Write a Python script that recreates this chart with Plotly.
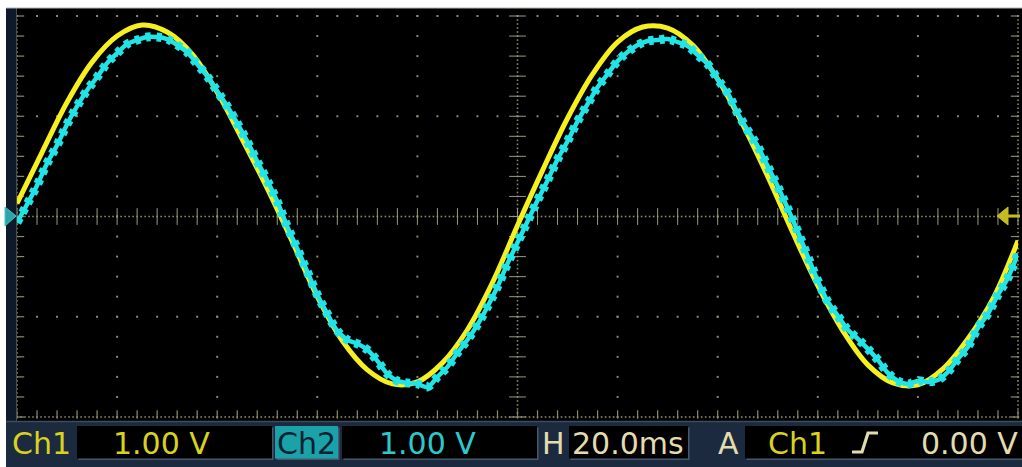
import numpy as np
import plotly.graph_objects as go

# ---------------- data ----------------
# time in ms (20.0 ms/div, 10 div), voltage in V (1.00 V/div)
time_ch1_ms = [0, 5, 10, 15, 20, 25, 30, 35, 40, 45, 50, 55, 60, 65, 70, 75, 80, 85, 90, 95,
               100, 105, 110, 115, 120, 125, 130, 135, 140, 145, 150, 155, 160, 165, 170, 175,
               180, 185, 190, 195, 200]
ch1_volts = [0.13, 0.64, 1.14, 1.54, 1.80, 1.91, 1.84, 1.62, 1.24, 0.77, 0.28, -0.25, -0.80,
             -1.24, -1.53, -1.67, -1.65, -1.46, -1.13, -0.66, -0.09, 0.46, 0.98, 1.42, 1.74,
             1.89, 1.88, 1.71, 1.37, 0.92, 0.40, -0.16, -0.69, -1.14, -1.48, -1.66, -1.68,
             -1.52, -1.22, -0.82, -0.24]

time_ch2_ms = [0, 2, 4, 6, 8, 10, 12, 14, 16, 18, 20, 22, 24, 26, 28, 30, 32, 34, 36, 38,
               40, 42, 44, 46, 48, 50, 52, 54, 56, 58, 60, 62, 64, 66, 68, 70, 72, 74, 76, 78,
               80, 82, 84, 86, 88, 90, 92, 94, 96, 98, 100, 102, 104, 106, 108, 110, 112, 114,
               116, 118, 120, 122, 124, 126, 128, 130, 132, 134, 136, 138, 140, 142, 144, 146,
               148, 150, 152, 154, 156, 158, 160, 162, 164, 166, 168, 170, 172, 174, 176, 178,
               180, 182, 184, 186, 188, 190, 192, 194, 196, 198, 200]
ch2_volts = [-0.06, 0.12, 0.31, 0.53, 0.71, 0.92, 1.10, 1.26, 1.39, 1.53,
             1.63, 1.72, 1.76, 1.79, 1.79, 1.77, 1.71, 1.64, 1.52, 1.40,
             1.25, 1.10, 0.93, 0.75, 0.55, 0.36, 0.15, -0.10, -0.32, -0.55,
             -0.78, -0.97, -1.14, -1.23, -1.27, -1.33, -1.44, -1.57, -1.64, -1.66,
             -1.67, -1.70, -1.60, -1.50, -1.36, -1.23, -1.08, -0.90, -0.70, -0.47,
             -0.26, -0.05, 0.16, 0.36, 0.57, 0.75, 0.95, 1.12, 1.29, 1.42,
             1.55, 1.64, 1.71, 1.75, 1.76, 1.77, 1.74, 1.70, 1.61, 1.52,
             1.37, 1.23, 1.03, 0.86, 0.70, 0.50, 0.30, 0.08, -0.15, -0.40,
             -0.64, -0.85, -0.99, -1.13, -1.22, -1.32, -1.43, -1.56, -1.64, -1.67,
             -1.64, -1.65, -1.63, -1.55, -1.42, -1.30, -1.11, -0.97, -0.78, -0.61,
             -0.37]

# readout bar texts
ch1_label, ch1_scale = "Ch1", "1.00 V"
ch2_label, ch2_scale = "Ch2", "1.00 V"
time_label, time_scale = "H", "20.0ms"
trig_label, trig_source, trig_level = "A", "Ch1", "0.00 V"

# ---------------- layout geometry (pixels) ----------------
FW, FH = 1022, 467
PL, PR, PT, PB = 17, 1018, 16, 417           # graticule area
T_MIN, T_MAX, V_MIN, V_MAX = 0, 200, -2, 2


def px(x):
    return (x - PL) / (PR - PL)


def py(y):
    return (PB - y) / (PB - PT)


GRID = "#8a8a6e"
GRID_HI = "#9a9a80"

fig = go.Figure()

# ---------------- graticule (dotted, oscilloscope style) ----------------
gx, gy = [], []
for t in range(20, 200, 20):
    if t == 100:
        continue
    for v in np.arange(-2, 2.0001, 0.2):
        gx.append(t); gy.append(v)
for v in (-1, 1, 2):
    for t in np.arange(0, 200.001, 4):
        gx.append(t); gy.append(v)
fig.add_trace(go.Scatter(x=gx, y=gy, mode="markers", cliponaxis=False, hoverinfo="skip",
                         marker=dict(symbol="square", size=2, color=GRID, line=dict(width=0)),
                         showlegend=False))

# dense lines: centre axes + frame edges
dx, dy = [], []
for t in np.arange(0, 200.001, 0.8):
    dx += [t, t]; dy += [0, -2]
for v in np.arange(-2, 2.0001, 0.04):
    dx += [0, 100, 200]; dy += [v, v, v]
fig.add_trace(go.Scatter(x=dx, y=dy, mode="markers", cliponaxis=False, hoverinfo="skip",
                         marker=dict(symbol="square", size=1.6, color=GRID, line=dict(width=0)),
                         showlegend=False))

# tick marks on centre axes
tk = np.arange(0, 200.001, 4)
fig.add_trace(go.Scatter(x=tk, y=[0] * len(tk), mode="markers", cliponaxis=False, hoverinfo="skip",
                         marker=dict(symbol="line-ns-open", size=12, color=GRID_HI,
                                     line=dict(width=1, color=GRID_HI)), showlegend=False))
vk = np.arange(-2, 2.0001, 0.2)
fig.add_trace(go.Scatter(x=[100] * len(vk), y=vk, mode="markers", cliponaxis=False, hoverinfo="skip",
                         marker=dict(symbol="line-ew-open", size=12, color=GRID_HI,
                                     line=dict(width=1, color=GRID_HI)), showlegend=False))
# tick marks on frame edges (pointing inward)
fig.add_trace(go.Scatter(x=list(tk), y=[-1.975] * len(tk), mode="markers", cliponaxis=False,
                         hoverinfo="skip",
                         marker=dict(symbol="line-ns-open", size=6, color=GRID,
                                     line=dict(width=1.2, color=GRID)), showlegend=False))
fig.add_trace(go.Scatter(x=[0.6] * len(vk) + [199.4] * len(vk), y=list(vk) + list(vk),
                         mode="markers", cliponaxis=False, hoverinfo="skip",
                         marker=dict(symbol="line-ew-open", size=6, color=GRID,
                                     line=dict(width=1.2, color=GRID)), showlegend=False))

# ---------------- waveforms ----------------
YEL = "#f5f01e"
CYA = "#22e3e6"
fig.add_trace(go.Scatter(x=time_ch1_ms, y=ch1_volts, mode="lines", name="Ch1",
                         line=dict(color=YEL, width=5, shape="spline"), showlegend=False))
fig.add_trace(go.Scatter(x=time_ch2_ms, y=ch2_volts, mode="lines", name="Ch2",
                         line=dict(color=CYA, width=4.5, shape="spline"), showlegend=False))
fig.add_trace(go.Scatter(x=time_ch2_ms, y=ch2_volts, mode="lines", hoverinfo="skip",
                         line=dict(color=CYA, width=9, shape="spline", dash="5px,6px"),
                         showlegend=False))

# ---------------- screen frame, markers and readout bar ----------------
shapes = []


def rect(x0, y0, x1, y1, fill, layer="above"):
    shapes.append(dict(type="rect", xref="paper", yref="paper", x0=px(x0), x1=px(x1),
                       y0=py(y1), y1=py(y0), fillcolor=fill, line=dict(width=0), layer=layer))


rect(16.5, 8, 1022, 421, "black", layer="below")
rect(6, 8, 16.5, 421, "#0e192b")
shapes.append(dict(type="line", xref="paper", yref="paper", x0=px(6), x1=px(1022), y0=py(8), y1=py(8),
                   line=dict(color="#b4b4b4", width=1)))
rect(6, 421, 1022, 467, "#1b2a3e")
shapes.append(dict(type="line", xref="paper", yref="paper", x0=px(6), x1=px(1022), y0=py(421.5), y1=py(421.5),
                   line=dict(color="#3c4c60", width=1.5)))
# readout boxes: (x0, x1, fill)
for x0, x1, fill in [(77, 272, "black"), (275, 338, "#1aa2a8"), (342, 537, "black"),
                     (569, 688, "black"), (745, 1022, "black")]:
    rect(x0 + 1.5, 427.5, x1 + 1.5, 460, "#46586e")
    rect(x0, 426, x1, 458.5, fill)

# left channel ground marker (teal triangle)
shapes.append(dict(type="path", xref="paper", yref="paper",
                   path=f"M{px(5)},{py(207)} L{px(16)},{py(216)} L{px(5)},{py(226)} Z",
                   fillcolor="#2aa6aa", line=dict(color="#48c4c6", width=1)))
# right trigger-level marker (yellow arrow pointing left)
shapes.append(dict(type="path", xref="paper", yref="paper",
                   path=f"M{px(997)},{py(216)} L{px(1008)},{py(207)} L{px(1008)},{py(225)} Z",
                   fillcolor="#c4bc20", line=dict(color="#c4bc20", width=1)))
shapes.append(dict(type="line", xref="paper", yref="paper", x0=px(1006), x1=px(1020), y0=py(216), y1=py(216),
                   line=dict(color="#c4bc20", width=3)))
# rising-edge trigger symbol
shapes.append(dict(type="path", xref="paper", yref="paper",
                   path=(f"M{px(852)},{py(452)} L{px(862)},{py(452)} L{px(868)},{py(433)} "
                         f"L{px(878)},{py(433)}"),
                   line=dict(color="#e2dcae", width=3.2)))

TXT_Y = "#d8d21e"
TXT_C = "#2cc9cb"
TXT_B = "#e2dcae"
FONT = "DejaVu Sans"
annotations = []


def label(x, text, color):
    annotations.append(dict(xref="paper", yref="paper", x=px(x), y=py(443), xanchor="left",
                            yanchor="middle", text=text, showarrow=False,
                            font=dict(family=FONT, size=30, color=color)))


label(10, ch1_label, TXT_Y)
label(111, ch1_scale, TXT_Y)
label(275, ch2_label, "#0c2233")
label(377, ch2_scale, TXT_C)
label(540, time_label, TXT_B)
label(570, time_scale, TXT_B)
label(716, trig_label, TXT_B)
label(766, trig_source, TXT_Y)
label(919, trig_level, TXT_B)

fig.update_layout(
    width=FW, height=FH,
    margin=dict(l=PL, r=FW - PR, t=PT, b=FH - PB, pad=0),
    paper_bgcolor="white", plot_bgcolor="black",
    shapes=shapes, annotations=annotations, showlegend=False,
    xaxis=dict(range=[T_MIN, T_MAX], showgrid=False, zeroline=False, showticklabels=False,
               ticks="", showline=False, fixedrange=True),
    yaxis=dict(range=[V_MIN, V_MAX], showgrid=False, zeroline=False, showticklabels=False,
               ticks="", showline=False, fixedrange=True),
)

# remove the browser's default 8px page margin so the figure sits at the window origin
fig.write_html("out.html", config={"displayModeBar": False},
               post_script="document.body.style.margin='0px';document.body.style.overflow='hidden';")
